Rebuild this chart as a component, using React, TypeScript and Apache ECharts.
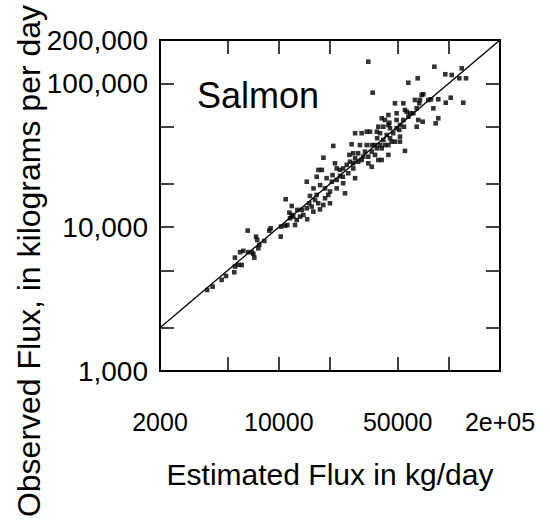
import React, { useEffect, useRef } from "react";
import * as echarts from "echarts";

// Estimated flux (x, kg/day) and observed flux (y, kg/day)
const estimatedFlux = [
  3790, 4080, 4610, 4890, 5470, 5520, 5780, 6050, 5520, 5920, 6180, 6610, 6930, 7180, 7080,
  7570, 7670, 8220, 7350, 7460, 6560, 8790, 8950, 10260, 10300, 10870, 11220, 10970, 11640,
  11910, 11530, 12160, 12450, 12740, 11910, 12850, 13650, 13930, 14690, 13330, 14590, 15100,
  15600, 15960, 15240, 16330, 16710, 17060, 17460, 18270, 18700, 19540, 20000,
  33590, 35650, 82200, 65600, 57800, 95300, 104000, 119100, 115300, 126200, 121600, 102600,
  95900, 86700, 81100, 86700, 83700, 78500, 70800, 69200, 75700, 67600, 63200, 67000, 64700,
  61800, 66100, 70200, 64700, 59200, 56500, 55200, 54000, 57800, 54000, 49300, 49300, 48200,
  44100, 40300, 42100, 44700, 51600, 54500, 51100, 49300, 45100, 47100, 51600, 51600, 48200,
  44100, 41200, 38500, 37700, 39400, 43100, 45100, 46100, 41200, 37900, 36800, 39400, 42100,
  44100, 40300, 37700, 35200, 32900, 34400, 32900, 30700, 28100, 26800, 20900, 18300, 30000,
  32100, 35200, 36800, 40300, 38500, 44100, 55200, 33600, 31400, 29300, 27400, 26000, 28100,
  29300, 30700, 27400, 26200, 25100, 23900, 22900, 21900, 21400, 27400, 33600, 35200, 28100,
  25600, 23800, 21900, 20500, 19100, 17100, 17900, 16700, 14600, 16000, 17500, 18700, 20000,
  21900, 23900, 24500, 20700, 22900,
];
const observedFlux = [
  3660, 3860, 4300, 4580, 4860, 5320, 5460, 5460, 6140, 6700, 6840, 6700, 6700, 6140, 6520,
  7130, 7520, 8020, 8590, 8150, 9460, 9460, 9820, 8590, 10090, 10250, 10350, 15630, 11530,
  12160, 12620, 11830, 10350, 11220, 14030, 13180, 13180, 12160, 11350, 11830, 13520, 14660,
  13900, 12820, 16480, 15450, 16750, 14660, 13300, 14260, 15890, 16750, 14660,
  141300, 86100, 130400, 108400, 100900, 115600, 114200, 127100, 108400, 108400, 73300, 79400,
  73300, 77400, 67000, 57100, 52700, 77400, 83900, 83000, 76600, 76600, 76600, 72600, 67000,
  61900, 55600, 54100, 49900, 61900, 63500, 65300, 72600, 58600, 55600, 61900, 55600, 72600,
  60200, 57100, 55600, 53200, 51300, 49900, 47400, 48700, 48700, 45000, 42600, 39300, 39300,
  51300, 49900, 49900, 46100, 45000, 43700, 41500, 39300, 40400, 41500, 37200, 37200, 37200,
  37200, 35300, 35300, 37200, 37200, 46100, 46100, 45000, 45000, 37700, 36700, 30400, 37200,
  33500, 33500, 31800, 29300, 29300, 31800, 33900, 30900, 30900, 32600, 32600, 31800, 30100,
  28500, 29300, 27800, 28500, 27100, 25600, 25000, 25600, 27800, 25600, 27800, 26300, 21900,
  23700, 22400, 21300, 20700, 21900, 25000, 25000, 22400, 20700, 18600, 19600, 18600, 17700,
  18600, 20200, 17200, 23000, 22700,
];

const xRange = [2000, 200000];
const yRange = [1000, 200000];
const oneToOneLine = [2000, 200000];
const xTickValues = [5000, 10000, 20000, 50000, 100000];
const xLabelValues = [2000, 10000, 50000, 200000];
const xLabelTexts = ["2000", "10000", "50000", "2e+05"];
const yTickValues = [2000, 5000, 10000, 20000, 50000, 100000];
const yLabelValues = [1000, 10000, 100000, 200000];
const yLabelTexts = ["1,000", "10,000", "100,000", "200,000"];
const panelLabel = "Salmon";
const xTitle = "Estimated Flux in kg/day";
const yTitle = "Observed Flux, in kilograms per day";

const FONT = "'Liberation Sans', Arial, Helvetica, sans-serif";
const L = (v: number) => Math.log10(v);

const labelFor = (vals: number[], texts: string[]) => (v: number) => {
  const i = vals.findIndex((t) => Math.abs(L(t) - v) < 1e-6);
  return i >= 0 ? texts[i] : "";
};

const tickStyle = {
  show: true,
  inside: true,
  length: 14,
  lineStyle: { color: "#000", width: 1.5 },
};

export default function App() {
  const ref = useRef<HTMLDivElement>(null);

  useEffect(() => {
    if (!ref.current) return;
    const chart = echarts.init(ref.current, undefined, { renderer: "svg" });

    const baseX = {
      type: "value",
      min: L(xRange[0]),
      max: L(xRange[1]),
      axisLine: { show: false },
      splitLine: { show: false },
      axisTick: { ...tickStyle, customValues: xTickValues.map(L) },
    };
    const baseY = {
      type: "value",
      min: L(yRange[0]),
      max: L(yRange[1]),
      axisLine: { show: false },
      splitLine: { show: false },
      axisTick: { ...tickStyle, customValues: yTickValues.map(L) },
    };

    chart.setOption({
      animation: false,
      backgroundColor: "#fff",
      grid: {
        left: 160,
        right: 50,
        top: 40,
        bottom: 152,
        show: true,
        borderColor: "#000",
        borderWidth: 2,
        backgroundColor: "transparent",
      },
      xAxis: [
        {
          ...baseX,
          position: "bottom",
          axisLabel: {
            customValues: xLabelValues.map(L),
            formatter: labelFor(xLabelValues, xLabelTexts),
            fontSize: 25,
            color: "#000",
            fontFamily: FONT,
            margin: 38,
          },
          name: xTitle,
          nameLocation: "middle",
          nameGap: 88,
          nameTextStyle: { fontSize: 30, color: "#000", fontFamily: FONT },
        },
        { ...baseX, position: "top", axisLabel: { show: false } },
      ],
      yAxis: [
        {
          ...baseY,
          position: "left",
          axisLabel: {
            customValues: yLabelValues.map(L),
            formatter: labelFor(yLabelValues, yLabelTexts),
            fontSize: 28,
            color: "#000",
            fontFamily: FONT,
            margin: 12,
          },
        },
        { ...baseY, position: "right", axisLabel: { show: false } },
      ],
      graphic: [
        {
          type: "text",
          x: 197,
          y: 95,
          style: {
            text: panelLabel,
            fontSize: 36,
            fontFamily: FONT,
            fill: "#000",
            align: "left",
            verticalAlign: "middle",
          },
        },
        {
          type: "text",
          x: 29,
          y: 261,
          rotation: Math.PI / 2,
          style: {
            text: yTitle,
            fontSize: 32,
            fontFamily: FONT,
            fill: "#000",
            align: "center",
            verticalAlign: "middle",
          },
        },
      ],
      series: [
        {
          type: "line",
          data: oneToOneLine.map((v) => [L(v), L(v)]),
          symbol: "none",
          silent: true,
          lineStyle: { color: "#000", width: 1.3 },
          z: 2,
        },
        {
          type: "scatter",
          data: estimatedFlux.map((x, i) => [L(x), L(observedFlux[i])]),
          symbol: "rect",
          symbolSize: 4.6,
          itemStyle: { color: "#000" },
          silent: true,
          z: 3,
        },
      ],
    });

    return () => chart.dispose();
  }, []);

  return (
    <div
      ref={ref}
      style={{ position: "absolute", left: 0, top: 0, width: 550, height: 523 }}
    />
  );
}
